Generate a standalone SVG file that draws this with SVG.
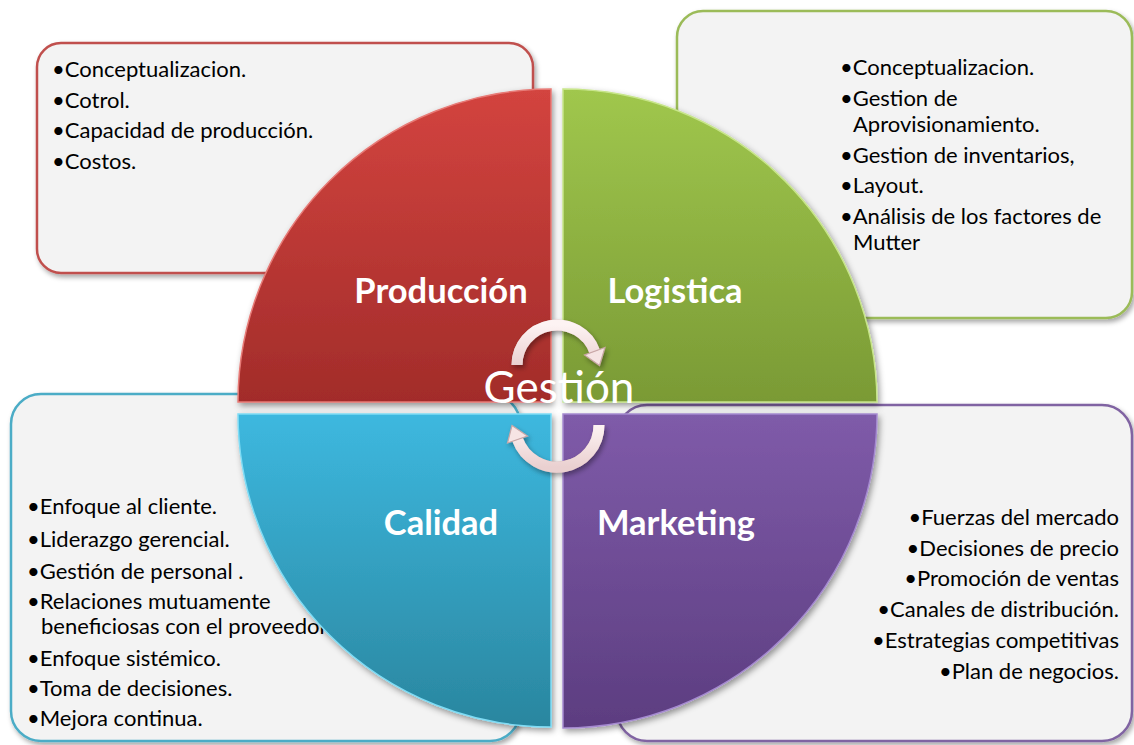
<svg xmlns="http://www.w3.org/2000/svg" width="1134" height="745" viewBox="0 0 1134 745">
<defs>
  <filter id="sh" x="-10%" y="-10%" width="125%" height="125%">
    <feDropShadow dx="2" dy="3" stdDeviation="2.5" flood-color="#000" flood-opacity="0.35"/>
  </filter>
  <filter id="shq" x="-10%" y="-10%" width="125%" height="125%">
    <feDropShadow dx="2" dy="3" stdDeviation="3" flood-color="#000" flood-opacity="0.4"/>
  </filter>
  <linearGradient id="gRed" x1="0" y1="0" x2="0" y2="1">
    <stop offset="0" stop-color="#d3443f"/>
    <stop offset="1" stop-color="#a22c2a"/>
  </linearGradient>
  <linearGradient id="gGreen" x1="0" y1="0" x2="0" y2="1">
    <stop offset="0" stop-color="#a0c74d"/>
    <stop offset="1" stop-color="#7a9a35"/>
  </linearGradient>
  <linearGradient id="gBlue" x1="0" y1="0" x2="0" y2="1">
    <stop offset="0" stop-color="#3db8df"/>
    <stop offset="1" stop-color="#2a869f"/>
  </linearGradient>
  <linearGradient id="gPurple" x1="0" y1="0" x2="0" y2="1">
    <stop offset="0" stop-color="#7f5ba9"/>
    <stop offset="1" stop-color="#5c3d80"/>
  </linearGradient>
  <linearGradient id="gArrow" x1="0" y1="0" x2="0" y2="1">
    <stop offset="0" stop-color="#fdf3f3"/>
    <stop offset="1" stop-color="#ead0d0"/>
  </linearGradient>
</defs>
<style>
  .box { fill: #f3f3f3; stroke-width: 2.5; filter: url(#sh); }
  .item { font-family: Lato, "Liberation Sans", sans-serif; font-size: 22px; fill: #000; }
  .lbl { font-family: Lato, "Open Sans", sans-serif; font-size: 34.5px; font-weight: bold; fill: #fff; text-anchor: middle; }
  .quad { stroke-width: 1.5; filter: url(#shq); }
  .arc { fill: none; stroke-width: 11; stroke-linecap: butt; }
</style>
<rect width="1134" height="745" fill="#fff"/>

<g id="node-produccion-box">
  <rect class="box" x="37" y="43" width="496" height="230" rx="24" stroke="#c0504d"/>
  <text class="item"><tspan x="52" y="77">•Conceptualizacion.</tspan><tspan x="52" y="108">•Cotrol.</tspan><tspan x="52" y="138">•Capacidad de producción.</tspan><tspan x="52" y="169">•Costos.</tspan></text>
</g>
<g id="node-logistica-box">
  <rect class="box" x="677" y="11" width="455" height="307" rx="26" stroke="#9bbb59"/>
  <text class="item"><tspan x="840" y="75">•Conceptualizacion.</tspan><tspan x="840" y="106">•Gestion de</tspan><tspan x="853" y="132">Aprovisionamiento.</tspan><tspan x="840" y="163">•Gestion de inventarios,</tspan><tspan x="840" y="193">•Layout.</tspan><tspan x="840" y="224">•Análisis de los factores de</tspan><tspan x="853" y="250">Mutter</tspan></text>
</g>
<g id="node-calidad-box">
  <rect class="box" x="11" y="394" width="509" height="347" rx="30" stroke="#4bacc6"/>
  <text class="item"><tspan x="27" y="514">•Enfoque al cliente.</tspan><tspan x="27" y="547">•Liderazgo gerencial.</tspan><tspan x="27" y="579">•Gestión de personal .</tspan><tspan x="27" y="609">•Relaciones mutuamente</tspan><tspan x="41" y="634">beneficiosas con el proveedor</tspan><tspan x="27" y="666">•Enfoque sistémico.</tspan><tspan x="27" y="696">•Toma de decisiones.</tspan><tspan x="27" y="726">•Mejora continua.</tspan></text>
</g>
<g id="node-marketing-box">
  <rect class="box" x="617" y="405" width="515" height="336" rx="30" stroke="#8064a2"/>
  <text class="item" text-anchor="end"><tspan x="1119" y="525">•Fuerzas del mercado</tspan><tspan x="1119" y="556">•Decisiones de precio</tspan><tspan x="1119" y="586">•Promoción de ventas</tspan><tspan x="1119" y="617">•Canales de distribución.</tspan><tspan x="1119" y="648">•Estrategias competitivas</tspan><tspan x="1119" y="679">•Plan de negocios.</tspan></text>
</g>

<g id="node-produccion">
  <path class="quad" d="M551,402 L551,89 A313,313 0 0 0 238,402 Z" fill="url(#gRed)" stroke="#e77a76"/>
  <text class="lbl" x="441" y="303">Producción</text>
</g>
<g id="node-logistica">
  <path class="quad" d="M563,402 L563,89 A314,314 0 0 1 877,402 Z" fill="url(#gGreen)" stroke="#c7e58a"/>
  <text class="lbl" x="675" y="303">Logistica</text>
</g>
<g id="node-calidad">
  <path class="quad" d="M551,414 L238,414 A313,313 0 0 0 551,727 Z" fill="url(#gBlue)" stroke="#7fdcf5"/>
  <text class="lbl" x="441" y="535">Calidad</text>
</g>
<g id="node-marketing">
  <path class="quad" d="M563,414 L877,414 A314,314 0 0 1 563,728 Z" fill="url(#gPurple)" stroke="#a58ad0"/>
  <text class="lbl" x="676" y="535">Marketing</text>
</g>

<g id="connectors" filter="url(#sh)">
  <path class="arc" d="M517,365 A40,40 0 0 1 594.6,351.3" stroke="#c9a7a7" stroke-width="12"/>
  <path class="arc" d="M517,365 A40,40 0 0 1 594.6,351.3" stroke="url(#gArrow)" stroke-width="9"/>
  <polygon points="605,347.5 584.5,355 599.5,365.5" fill="#f6e4e4" stroke="#c9a7a7" stroke-width="1.2"/>
  <path class="arc" d="M599,425 A42,42 0 0 1 517.5,439.4" stroke="#c9a7a7" stroke-width="12"/>
  <path class="arc" d="M599,425 A42,42 0 0 1 517.5,439.4" stroke="url(#gArrow)" stroke-width="9"/>
  <polygon points="507.5,443 527.5,436 512,425.5" fill="#f6e4e4" stroke="#c9a7a7" stroke-width="1.2"/>
</g>

<g id="node-gestion">
  <text x="559" y="403" text-anchor="middle" font-family="Lato, 'Open Sans', sans-serif" font-size="44" fill="#fff">Gestión</text>
</g>
</svg>
